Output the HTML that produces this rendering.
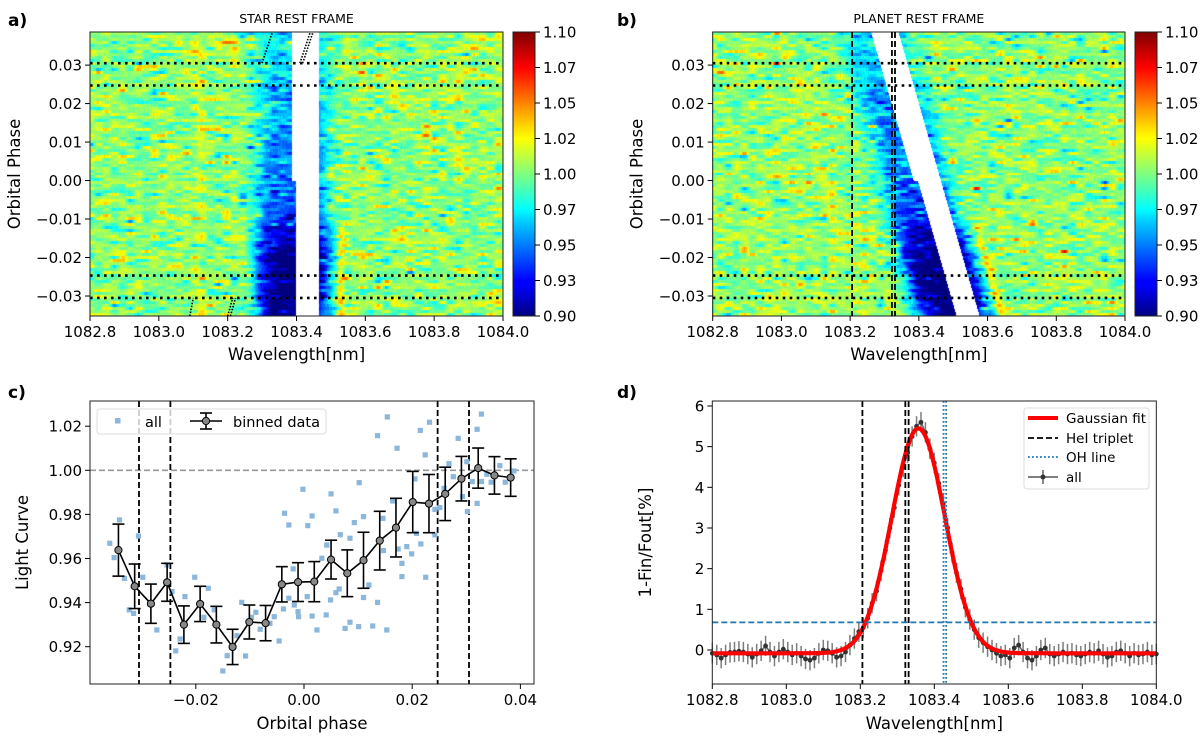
<!DOCTYPE html>
<html><head><meta charset="utf-8">
<style>
body{margin:0;background:#fff;}
#wrap{position:relative;width:1200px;height:738px;overflow:hidden;font-family:"DejaVu Sans","Liberation Sans",sans-serif;}
canvas{position:absolute;}
svg{position:absolute;left:0;top:0;}
</style></head>
<body>
<div id="wrap">
<canvas id="heatA" width="413" height="284" style="left:90px;top:32px;width:413px;height:284px"></canvas>
<canvas id="heatB" width="413" height="284" style="left:712px;top:32px;width:413px;height:284px"></canvas>
<svg id="svg" width="1200" height="738">
<defs>
<linearGradient id="jet" x1="0" y1="1" x2="0" y2="0">
<stop offset="0" stop-color="#00007f"/><stop offset="0.11" stop-color="#0000ff"/><stop offset="0.125" stop-color="#0000ff"/>
<stop offset="0.34" stop-color="#00d4ff"/><stop offset="0.375" stop-color="#00ffff"/><stop offset="0.5" stop-color="#7fff7f"/>
<stop offset="0.625" stop-color="#ffff00"/><stop offset="0.66" stop-color="#ffe000"/><stop offset="0.875" stop-color="#ff0000"/><stop offset="1" stop-color="#7f0000"/>
</linearGradient>
</defs>
<g id="layer"></g>
</svg>
</div>
<script>
// ---------- data ----------
const absPhase = [0.0386, 0.03, 0.02, 0.01, 0.0, -0.01, -0.015, -0.02, -0.03, -0.0352];
const absDepth = [0.03, 0.035, 0.045, 0.05, 0.055, 0.07, 0.09, 0.11, 0.11, 0.095];
const transitPhases = [-0.0305, -0.0247, 0.0247, 0.0305];
const cbarTicks = ["0.90","0.93","0.95","0.97","1.00","1.02","1.05","1.07","1.10"];
const phaseTicks = [0.03, 0.02, 0.01, 0.0, -0.01, -0.02, -0.03];
const wlTicks = [1082.8, 1083.0, 1083.2, 1083.4, 1083.6, 1083.8, 1084.0];
const binPhase = [-0.0343,-0.0313,-0.0283,-0.0253,-0.0222,-0.0192,-0.0162,-0.0132,-0.0101,-0.0071,-0.0041,-0.0011,0.0019,0.0050,0.0080,0.0110,0.0140,0.0170,0.0201,0.0231,0.0261,0.0291,0.0322,0.0352,0.0382];
const binValue = [0.9638,0.9474,0.9395,0.9492,0.9300,0.9394,0.9300,0.9199,0.9312,0.9307,0.9483,0.9493,0.9495,0.9595,0.9533,0.9592,0.9681,0.9740,0.9856,0.9849,0.9893,0.9962,1.0010,0.9977,0.9967];
const binErr = [0.0118,0.0101,0.0089,0.0086,0.0085,0.0080,0.0083,0.0080,0.0077,0.0080,0.0080,0.0088,0.0091,0.0088,0.0106,0.0127,0.0133,0.0133,0.0139,0.0132,0.0121,0.0101,0.0091,0.0085,0.0085];
const allPhase = [-0.0359,-0.0341,-0.0351,-0.0306,-0.0332,-0.0298,-0.0323,-0.0315,-0.0272,-0.0253,-0.0244,-0.0237,-0.0229,-0.0220,-0.0202,-0.0177,-0.0185,-0.0166,-0.0150,-0.0142,-0.0124,-0.0115,-0.0108,-0.0097,-0.0089,-0.0081,-0.0063,-0.0046,-0.0055,-0.0038,-0.0036,-0.0028,-0.0020,-0.0028,-0.0018,-0.0011,-0.0010,-0.0002,0.0006,0.0007,0.0015,0.0015,0.0024,0.0033,0.0041,0.0042,0.0049,0.0050,0.0059,0.0059,0.0067,0.0065,0.0085,0.0085,0.0093,0.0076,0.0101,0.0102,0.0110,0.0110,0.0120,0.0127,0.0136,0.0136,0.0146,0.0147,0.0153,0.0154,0.0164,0.0172,0.0174,0.0181,0.0190,0.0181,0.0199,0.0208,0.0215,0.0216,0.0224,0.0225,0.0232,0.0242,0.0242,0.0251,0.0259,0.0268,0.0276,0.0285,0.0293,0.0302,0.0301,0.0311,0.0320,0.0320,0.0328,0.0328,0.0338,0.0346,0.0362,0.0372,0.0388,0.0205];
const allValue = [0.9669,0.9775,0.9604,0.9702,0.9510,0.9515,0.9367,0.9351,0.9276,0.9571,0.9450,0.9181,0.9235,0.9427,0.9515,0.9465,0.9333,0.9367,0.9090,0.9159,0.9250,0.9401,0.9158,0.9333,0.9356,0.9279,0.9306,0.9226,0.9336,0.9371,0.9805,0.9752,0.9553,0.9420,0.9389,0.9359,0.9336,0.9914,0.9427,0.9749,0.9793,0.9339,0.9276,0.9601,0.9344,0.9661,0.9412,0.9893,0.9816,0.9445,0.9708,0.9462,0.9692,0.9311,0.9763,0.9283,0.9291,0.9944,0.9790,0.9423,0.9480,0.9294,1.0157,0.9401,0.9782,0.9636,0.9276,1.0242,0.9861,1.0100,0.9643,0.9578,0.9654,0.9518,0.9621,0.9714,1.0181,0.9666,1.0070,0.9515,1.0218,0.9823,0.9707,0.9831,0.9918,1.0030,0.9971,1.0145,0.9881,0.9813,1.0039,0.9949,1.0186,0.9850,1.0255,0.9949,0.9982,0.9946,1.0021,0.9946,0.9997,0.9961];
const cXTicks = [-0.02, 0.0, 0.02, 0.04];
const cYTicks = [0.92, 0.94, 0.96, 0.98, 1.00, 1.02];
const specStart = 1082.80, specStep = 0.012;
const specValue = [-0.08,-0.12,-0.20,-0.12,-0.06,-0.05,-0.03,-0.05,-0.10,-0.18,-0.10,-0.02,0.10,-0.05,-0.15,-0.05,0.02,-0.05,-0.12,-0.08,-0.15,-0.22,-0.25,-0.20,-0.08,0.00,-0.02,-0.08,-0.18,-0.15,-0.05,0.12,0.28,0.45,0.55,0.78,1.15,1.45,1.95,2.45,3.0,3.5,4.05,4.5,4.85,5.25,5.5,5.6,5.35,4.95,4.6,4.1,3.6,3.0,2.4,1.9,1.5,1.05,0.75,0.50,0.30,0.18,0.08,0.00,-0.08,-0.15,-0.12,-0.20,0.05,0.12,-0.05,-0.20,-0.25,-0.15,0.00,0.05,-0.10,-0.15,-0.10,-0.05,-0.10,-0.08,-0.12,-0.15,-0.10,-0.05,-0.08,-0.02,-0.10,-0.18,-0.15,-0.05,-0.02,-0.08,-0.15,-0.08,-0.12,-0.10,-0.05,-0.12,-0.10];
const specErr = 0.25;
const gaussParams = [-0.08, 5.53, 1083.357, 0.0717];
const heLines = [1083.2057, 1083.3217, 1083.3306];
const ohLines = [1083.425, 1083.432];
const threshold = 0.68;
const dYTicks = [0,1,2,3,4,5,6];

// ---------- helpers ----------
const NS = "http://www.w3.org/2000/svg";
const layer = document.getElementById('layer');
function mk(tag, attrs, name, parent){
  const e = document.createElementNS(NS, tag);
  for (const k in attrs) e.setAttribute(k, attrs[k]);
  
  
  (parent||layer).appendChild(e);
  return e;
}
function txt(x,y,s,size,name,anchor,extra){
  const t = mk('text', Object.assign({x:x,y:y,'font-size':size,'text-anchor':anchor||'middle',fill:'#000'}, extra||{}), name);
  t.textContent = s; return t;
}
function fmt(v,d){ const s=Math.abs(v).toFixed(d); return (v<-1e-9?'\u2212':'')+s; }

// ---------- heatmaps ----------
const HT=32, HB=316, PTOP=0.0386, PBOT=-0.0352;
function phY(p){ return HT + (PTOP-p)/(PTOP-PBOT)*(HB-HT); }
let seed = 12345;
function rnd(){ seed = (seed*1103515245 + 12345) % 2147483648; return seed/2147483648; }
function gauss(){ let u=rnd()||1e-6, v=rnd(); return Math.sqrt(-2*Math.log(u))*Math.cos(2*Math.PI*v); }
function interp(xs, ys, x){
  if (x>=xs[0]) return ys[0];
  for (let i=1;i<xs.length;i++){ if (x>=xs[i]){ const t=(x-xs[i-1])/(xs[i]-xs[i-1]); return ys[i-1]+t*(ys[i]-ys[i-1]); } }
  return ys[ys.length-1];
}
function jet(t){
  t=Math.max(0,Math.min(1,t));
  const c=v=>Math.max(0,Math.min(1,v));
  return [c(1.5-Math.abs(4*t-3))*255, c(1.5-Math.abs(4*t-2))*255, c(1.5-Math.abs(4*t-1))*255];
}
function drawHeat(id, planet){
  const cv=document.getElementById(id), ctx=cv.getContext('2d');
  const W=413, H=284, rows=95, KS=8;
  const img=ctx.createImageData(W,H);
  const rowH=H/rows;
  for (let r=0;r<rows;r++){
    const knots=[]; for(let k=0;k<W/KS+3;k++){ let g=gauss()*0.013; if(rnd()<0.07) g+= (rnd()<0.5?-1:1)*0.025; knots.push(g); }
    const fine=[]; for(let x=0;x<W;x++) fine.push(gauss()*0.003);
    const y0=Math.round(r*rowH), y1=Math.round((r+1)*rowH);
    for (let x=0;x<W;x++){
      const kx=x/KS, k0=Math.floor(kx), f=kx-k0, s=(1-Math.cos(f*Math.PI))/2;
      const nz=knots[k0]*(1-s)+knots[k0+1]*s+fine[x];
      for (let y=y0;y<y1;y++){
        const ph = PTOP-(y+0.5)/H*(PTOP-PBOT);
        const lam = 1082.8+(x+0.5)/W*1.2;
        const ls = planet ? lam + 3.2*ph : lam;
        const idx=(y*W+x)*4;
        const wl = ph<0 ? 1083.398 : 1083.386;
        if (ls>wl && ls<1083.465){ img.data[idx]=255;img.data[idx+1]=255;img.data[idx+2]=255;img.data[idx+3]=255; continue; }
        let v=1.003+nz;
        const d=interp(absPhase,absDepth,ph);
        v -= d*Math.exp(-Math.pow((ls-1083.39)/0.11,4));
        if (ph<-0.012) v += 0.03*Math.exp(-Math.pow((ls-1083.53)/0.012,2));
        v += 0.01*Math.exp(-Math.pow((ls-1083.12)/0.015,2));
        const c=jet((v-0.9)/0.2);
        img.data[idx]=c[0];img.data[idx+1]=c[1];img.data[idx+2]=c[2];img.data[idx+3]=255;
      }
    }
  }
  ctx.putImageData(img,0,0);
}
drawHeat('heatA', false);
drawHeat('heatB', true);

function heatPanel(L, R, cbx, tag, title, letterX){
  const X=l=>L+(l-1082.8)/1.2*(R-L);
  txt(letterX,26,tag,17,'panel-label-'+tag[0],'start',{'font-weight':'bold'});
  txt((L+R)/2,23,title,12.5,'panel-title-'+tag[0]);
  transitPhases.forEach((p,i)=>{
    mk('line',{x1:L,x2:R,y1:phY(p),y2:phY(p),stroke:'#000','stroke-width':2.6,'stroke-dasharray':'2.6,4.4'},'transit-line');
  });
  mk('rect',{x:L,y:HT,width:R-L,height:HB-HT,fill:'none',stroke:'#222','stroke-width':1},'plot-frame');
  phaseTicks.forEach(p=>{
    const y=phY(p);
    mk('line',{x1:L-5,x2:L,y1:y,y2:y,stroke:'#000'},'y-tick');
    txt(L-8,y+5.5,fmt(p,2),15,'y-tick-label','end');
  });
  wlTicks.forEach(w=>{
    const x=X(w);
    mk('line',{x1:x,x2:x,y1:HB,y2:HB+5,stroke:'#000'},'x-tick');
    txt(x,HB+21,w.toFixed(1),15,'x-tick-label');
  });
  txt((L+R)/2,HB+44,'Wavelength[nm]',16.5,'x-axis-title');
  txt(0,0,'Orbital Phase',16.5,'y-axis-title','middle',{transform:'translate('+(L-70)+','+((HT+HB)/2)+') rotate(-90)'});
  mk('rect',{x:cbx,y:HT,width:22,height:HB-HT,fill:'url(#jet)',stroke:'#222','stroke-width':1},'colorbar');
  cbarTicks.forEach((s,i)=>{
    const y=HB-i*(HB-HT)/8;
    mk('line',{x1:cbx+22,x2:cbx+27,y1:y,y2:y,stroke:'#000'},'colorbar-tick');
    txt(cbx+30,y+5.5,s,15,'colorbar-tick-label','start');
  });
  return X;
}
const XA=heatPanel(90,503,513,'a)','STAR REST FRAME',8);
[[1083.30,0.0305,1083.33,0.0386],[1083.41,0.0305,1083.44,0.0386],[1083.418,0.0305,1083.448,0.0386],[1083.09,-0.0352,1083.10,-0.0305],[1083.20,-0.0352,1083.215,-0.0305],[1083.208,-0.0352,1083.223,-0.0305]].forEach(s=>{
  mk('line',{x1:XA(s[0]),y1:phY(s[1]),x2:XA(s[2]),y2:phY(s[3]),stroke:'#000','stroke-width':1.6,'stroke-dasharray':'1.5,1.5'},'planet-track-line');
});
const XB=heatPanel(712.7,1125,1135,'b)','PLANET REST FRAME',617);
heLines.forEach(w=>mk('line',{x1:XB(w),x2:XB(w),y1:HT,y2:HB,stroke:'#000','stroke-width':1.8,'stroke-dasharray':'6,3'},'hei-line'));

// ---------- panel c ----------
const CL=90, CR=534, CT=401, CB=684;
const cx=p=>304+p*5410, cy=v=>470.3-(v-1.0)*2205;
txt(8,398,'c)',17,'panel-label-c','start',{'font-weight':'bold'});
mk('line',{x1:CL,x2:CR,y1:cy(1.0),y2:cy(1.0),stroke:'#999','stroke-width':1.6,'stroke-dasharray':'6,3'},'unity-line');
transitPhases.forEach(p=>mk('line',{x1:cx(p),x2:cx(p),y1:CT,y2:CB,stroke:'#000','stroke-width':1.8,'stroke-dasharray':'6,3'},'transit-line-c'));
allPhase.forEach((p,i)=>{
  mk('rect',{x:cx(p)-2.6,y:cy(allValue[i])-2.6,width:5.2,height:5.2,fill:'#8cb7dc'},'all-point');
});
let dpath='';
binPhase.forEach((p,i)=>{ dpath+=(i?'L':'M')+cx(p).toFixed(1)+','+cy(binValue[i]).toFixed(1); });
binPhase.forEach((p,i)=>{
  const x=cx(p), y1=cy(binValue[i]+binErr[i]), y2=cy(binValue[i]-binErr[i]);
  mk('line',{x1:x,x2:x,y1:y1,y2:y2,stroke:'#000','stroke-width':1.6},'bin-errorbar');
  mk('line',{x1:x-6,x2:x+6,y1:y1,y2:y1,stroke:'#000','stroke-width':1.6},'bin-errorbar-cap');
  mk('line',{x1:x-6,x2:x+6,y1:y2,y2:y2,stroke:'#000','stroke-width':1.6},'bin-errorbar-cap');
});
mk('path',{d:dpath,fill:'none',stroke:'#000','stroke-width':1.6},'binned-line');
binPhase.forEach((p,i)=>mk('circle',{cx:cx(p),cy:cy(binValue[i]),r:3.6,fill:'#888',stroke:'#000','stroke-width':1},'bin-point'));
mk('rect',{x:CL,y:CT,width:CR-CL,height:CB-CT,fill:'none',stroke:'#222','stroke-width':1},'plot-frame-c');
cYTicks.forEach(v=>{ const y=cy(v); mk('line',{x1:CL-5,x2:CL,y1:y,y2:y,stroke:'#000'},'y-tick'); txt(CL-8,y+5.5,v.toFixed(2),15,'y-tick-label','end'); });
cXTicks.forEach(v=>{ const x=cx(v); mk('line',{x1:x,x2:x,y1:CB,y2:CB+5,stroke:'#000'},'x-tick'); txt(x,CB+21,fmt(v,2),15,'x-tick-label'); });
txt((CL+CR)/2,CB+45,'Orbital phase',16.5,'x-axis-title');
txt(0,0,'Light Curve',16.5,'y-axis-title','middle',{transform:'translate(28,'+((CT+CB)/2)+') rotate(-90)'});
mk('rect',{x:97,y:409,width:229,height:25,fill:'#fff','fill-opacity':0.8,stroke:'#ddd',rx:3},'legend-c');
mk('rect',{x:115,y:418,width:5.5,height:5.5,fill:'#8cb7dc'},'legend-all-marker');
txt(145,427,'all',14.5,'legend-all-label','start');
mk('line',{x1:190,x2:222,y1:421,y2:421,stroke:'#000','stroke-width':1.6},'legend-binned-line');
mk('line',{x1:206,x2:206,y1:413,y2:429,stroke:'#000','stroke-width':1.6},'legend-binned-err');
mk('line',{x1:200,x2:212,y1:413,y2:413,stroke:'#000','stroke-width':1.6},'legend-binned-cap');
mk('line',{x1:200,x2:212,y1:429,y2:429,stroke:'#000','stroke-width':1.6},'legend-binned-cap');
mk('circle',{cx:206,cy:421,r:3.6,fill:'#888',stroke:'#000'},'legend-binned-marker');
txt(233,427,'binned data',14.5,'legend-binned-label','start');

// ---------- panel d ----------
const DL=712.3, DR=1156.3, DT=401, DB=684;
const dx=w=>DL+(w-1082.8)*370, dy=v=>650-v*40.67;
txt(617,398,'d)',17,'panel-label-d','start',{'font-weight':'bold'});
let sp='';
specValue.forEach((v,i)=>{ const w=specStart+i*specStep; sp+=(i?'L':'M')+dx(w).toFixed(1)+','+dy(v).toFixed(1);
  mk('line',{x1:dx(w),x2:dx(w),y1:dy(v+specErr),y2:dy(v-specErr),stroke:'#666','stroke-width':1.5,'stroke-opacity':0.85},'spectrum-errorbar');
});
mk('path',{d:sp,fill:'none',stroke:'#444','stroke-width':1.6,'stroke-opacity':0.8},'spectrum-line');
specValue.forEach((v,i)=>mk('circle',{cx:dx(specStart+i*specStep),cy:dy(v),r:2.4,fill:'#333'},'spectrum-point'));
let gp='';
for(let k=0;k<=300;k++){ const w=1082.8+k*1.2/300; const v=gaussParams[0]+gaussParams[1]*Math.exp(-Math.pow(w-gaussParams[2],2)/(2*gaussParams[3]*gaussParams[3])); gp+=(k?'L':'M')+dx(w).toFixed(1)+','+dy(v).toFixed(1); }
mk('path',{d:gp,fill:'none',stroke:'#ff0000','stroke-width':4.2},'gaussian-fit');
heLines.forEach(w=>mk('line',{x1:dx(w),x2:dx(w),y1:DT,y2:DB,stroke:'#000','stroke-width':1.8,'stroke-dasharray':'6,3'},'hei-line-d'));
ohLines.forEach(w=>mk('line',{x1:dx(w),x2:dx(w),y1:DT,y2:DB,stroke:'#1f77b4','stroke-width':1.8,'stroke-dasharray':'1.8,2.2'},'oh-line'));
mk('line',{x1:DL,x2:DR,y1:dy(threshold),y2:dy(threshold),stroke:'#1f77b4','stroke-width':1.8,'stroke-dasharray':'6,3'},'threshold-line');
mk('rect',{x:DL,y:DT,width:DR-DL,height:DB-DT,fill:'none',stroke:'#222','stroke-width':1},'plot-frame-d');
dYTicks.forEach(v=>{ const y=dy(v); mk('line',{x1:DL-5,x2:DL,y1:y,y2:y,stroke:'#000'},'y-tick'); txt(DL-8,y+5.5,String(v),15,'y-tick-label','end'); });
wlTicks.forEach(w=>{ const x=dx(w); mk('line',{x1:x,x2:x,y1:DB,y2:DB+5,stroke:'#000'},'x-tick'); txt(x,DB+21,w.toFixed(1),15,'x-tick-label'); });
txt((DL+DR)/2,DB+45,'Wavelength[nm]',16.5,'x-axis-title');
txt(0,0,'1-Fin/Fout[%]',16.5,'y-axis-title','middle',{transform:'translate(651,'+((DT+DB)/2)+') rotate(-90)'});
mk('rect',{x:1024,y:408,width:125,height:81,fill:'#fff','fill-opacity':0.8,stroke:'#ddd',rx:3},'legend-d');
mk('line',{x1:1028,x2:1058,y1:418,y2:418,stroke:'#ff0000','stroke-width':4},'legend-gauss-line');
txt(1066,423,'Gaussian fit',13.5,'legend-gauss-label','start');
mk('line',{x1:1028,x2:1058,y1:438,y2:438,stroke:'#000','stroke-width':1.8,'stroke-dasharray':'6,3'},'legend-hei-line');
txt(1066,443,'HeI triplet',13.5,'legend-hei-label','start');
mk('line',{x1:1028,x2:1058,y1:457,y2:457,stroke:'#1f77b4','stroke-width':1.8,'stroke-dasharray':'1.8,2.2'},'legend-oh-line');
txt(1066,462,'OH line',13.5,'legend-oh-label','start');
mk('line',{x1:1028,x2:1058,y1:477,y2:477,stroke:'#555','stroke-width':1.5},'legend-all-line');
mk('line',{x1:1043,x2:1043,y1:470,y2:484,stroke:'#555','stroke-width':1.4},'legend-all-err');
mk('circle',{cx:1043,cy:477,r:2.5,fill:'#333'},'legend-all-marker');
txt(1066,482,'all',13.5,'legend-all-label-d','start');
</script>
</body></html>
